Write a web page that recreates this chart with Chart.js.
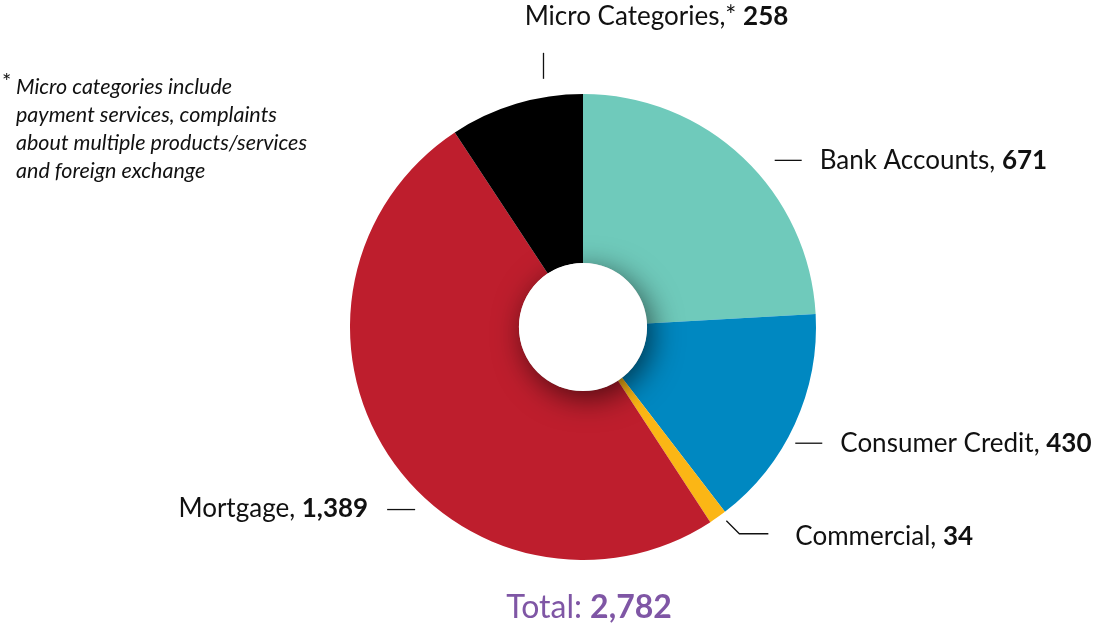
<!DOCTYPE html>
<html>
<head>
<meta charset="utf-8">
<script src="https://cdn.jsdelivr.net/npm/chart.js@4.4.0/dist/chart.umd.min.js"></script>
<style>
  html, body { margin: 0; padding: 0; background: #fff; }
  #wrap { width: 1098px; height: 623px; position: relative; }
</style>
</head>
<body>
<div id="wrap"><canvas id="chartComplaints"></canvas></div>
<script>
const categories = ["Bank Accounts", "Consumer Credit", "Commercial", "Mortgage", "Micro Categories"];
const labelPrefixes = ["Bank Accounts, ", "Consumer Credit, ", "Commercial, ", "Mortgage, ", "Micro Categories,* "];
const complaints = [671, 430, 34, 1389, 258];
const valueLabels = ["671", "430", "34", "1,389", "258"];
const colours = ["#6fcabb", "#0088c1", "#fbb615", "#be1e2d", "#000000"];
const totalLabel = "2,782";
const footnote = [
    "Micro categories include",
    "payment services, complaints",
    "about multiple products/services",
    "and foreign exchange"
];

// leader layout: a = angle (deg clockwise from top), d = distance from centre, kind of leader
const leaders = [
    { a: 49, d: 254, kind: "right" },
    { a: 118.7, d: 242, kind: "right" },
    { a: 143.5, d: 241, kind: "elbow" },
    { a: 222.6, d: 248, kind: "left" },
    { a: 351.8, d: 277, kind: "up" }
];

const FONT = "Lato, 'Noto Sans', sans-serif";
const SIZE = 26;

function drawLabel(ctx, x, y, prefix, value, align) {
    ctx.textBaseline = "middle";
    ctx.font = SIZE + "px " + FONT;
    const wa = ctx.measureText(prefix).width;
    ctx.font = "bold " + SIZE + "px " + FONT;
    const wb = ctx.measureText(value).width;
    let x0 = align === "right" ? x - wa - wb : (align === "center" ? x - (wa + wb) / 2 : x);
    ctx.fillStyle = "#111";
    ctx.textAlign = "left";
    ctx.font = SIZE + "px " + FONT;
    ctx.fillText(prefix, x0, y);
    ctx.font = "bold " + SIZE + "px " + FONT;
    ctx.fillText(value, x0 + wa, y);
}

const holeShadow = {
    id: "holeShadow",
    afterDatasetsDraw(chart) {
        const arc = chart.getDatasetMeta(0).data[0];
        const ctx = chart.ctx;
        ctx.save();
        ctx.beginPath();
        ctx.arc(arc.x, arc.y, arc.innerRadius, 0, Math.PI * 2);
        ctx.shadowColor = "rgba(0,0,0,0.6)";
        ctx.shadowBlur = 30;
        ctx.shadowOffsetX = 5;
        ctx.shadowOffsetY = 7;
        ctx.fillStyle = "#fff";
        ctx.fill();
        ctx.restore();
    }
};

const annotations = {
    id: "annotations",
    afterDraw(chart) {
        const ctx = chart.ctx;
        const arc = chart.getDatasetMeta(0).data[0];
        const cx = arc.x, cy = arc.y;
        ctx.save();
        ctx.strokeStyle = "#111";
        ctx.lineWidth = 1.3;
        leaders.forEach(function (l, i) {
            const rad = l.a * Math.PI / 180;
            const px = cx + l.d * Math.sin(rad);
            const py = cy - l.d * Math.cos(rad);
            ctx.beginPath();
            if (l.kind === "right") {
                ctx.moveTo(px, py); ctx.lineTo(px + 27, py); ctx.stroke();
                drawLabel(ctx, px + 45, py, labelPrefixes[i], valueLabels[i], "left");
            } else if (l.kind === "elbow") {
                ctx.moveTo(px, py); ctx.lineTo(px + 13, py + 13); ctx.lineTo(px + 42, py + 13); ctx.stroke();
                drawLabel(ctx, px + 69, py + 16, labelPrefixes[i], valueLabels[i], "left");
            } else if (l.kind === "left") {
                ctx.moveTo(px - 28, py); ctx.lineTo(px, py); ctx.stroke();
                drawLabel(ctx, px - 47, py - 1, labelPrefixes[i], valueLabels[i], "right");
            } else {
                ctx.moveTo(px, py + 26); ctx.lineTo(px, py); ctx.stroke();
                drawLabel(ctx, px + 113, py - 36, labelPrefixes[i], valueLabels[i], "center");
            }
        });

        // total
        ctx.textBaseline = "middle";
        ctx.font = "32px " + FONT;
        const t1 = "Total: ";
        const w1 = ctx.measureText(t1).width;
        ctx.font = "bold 32px " + FONT;
        const w2 = ctx.measureText(totalLabel).width;
        const tx = cx + 6 - (w1 + w2) / 2;
        const ty = chart.chartArea.bottom + 48;
        ctx.fillStyle = "#7f56a5";
        ctx.font = "32px " + FONT;
        ctx.fillText(t1, tx, ty);
        ctx.font = "bold 32px " + FONT;
        ctx.fillText(totalLabel, tx + w1, ty);

        // footnote
        ctx.fillStyle = "#111";
        ctx.font = "22px " + FONT;
        ctx.fillText("*", 2, 82);
        ctx.font = "italic 21.5px " + FONT;
        footnote.forEach(function (line, i) {
            ctx.fillText(line, 16, 87 + i * 28);
        });
        ctx.restore();
    }
};

new Chart(document.getElementById("chartComplaints").getContext("2d"), {
    type: "doughnut",
    data: {
        labels: categories,
        datasets: [
            {
                data: complaints,
                backgroundColor: colours,
                borderWidth: 0,
            },
        ],
    },
    options: {
        responsive: true,
        maintainAspectRatio: false,
        animation: false,
        cutout: "27.5%",
        layout: { padding: { left: 350, right: 282, top: 94, bottom: 63 } },
        plugins: {
            legend: { display: false },
            tooltip: { enabled: false },
        },
    },
    plugins: [holeShadow, annotations],
});
</script>
</body>
</html>
